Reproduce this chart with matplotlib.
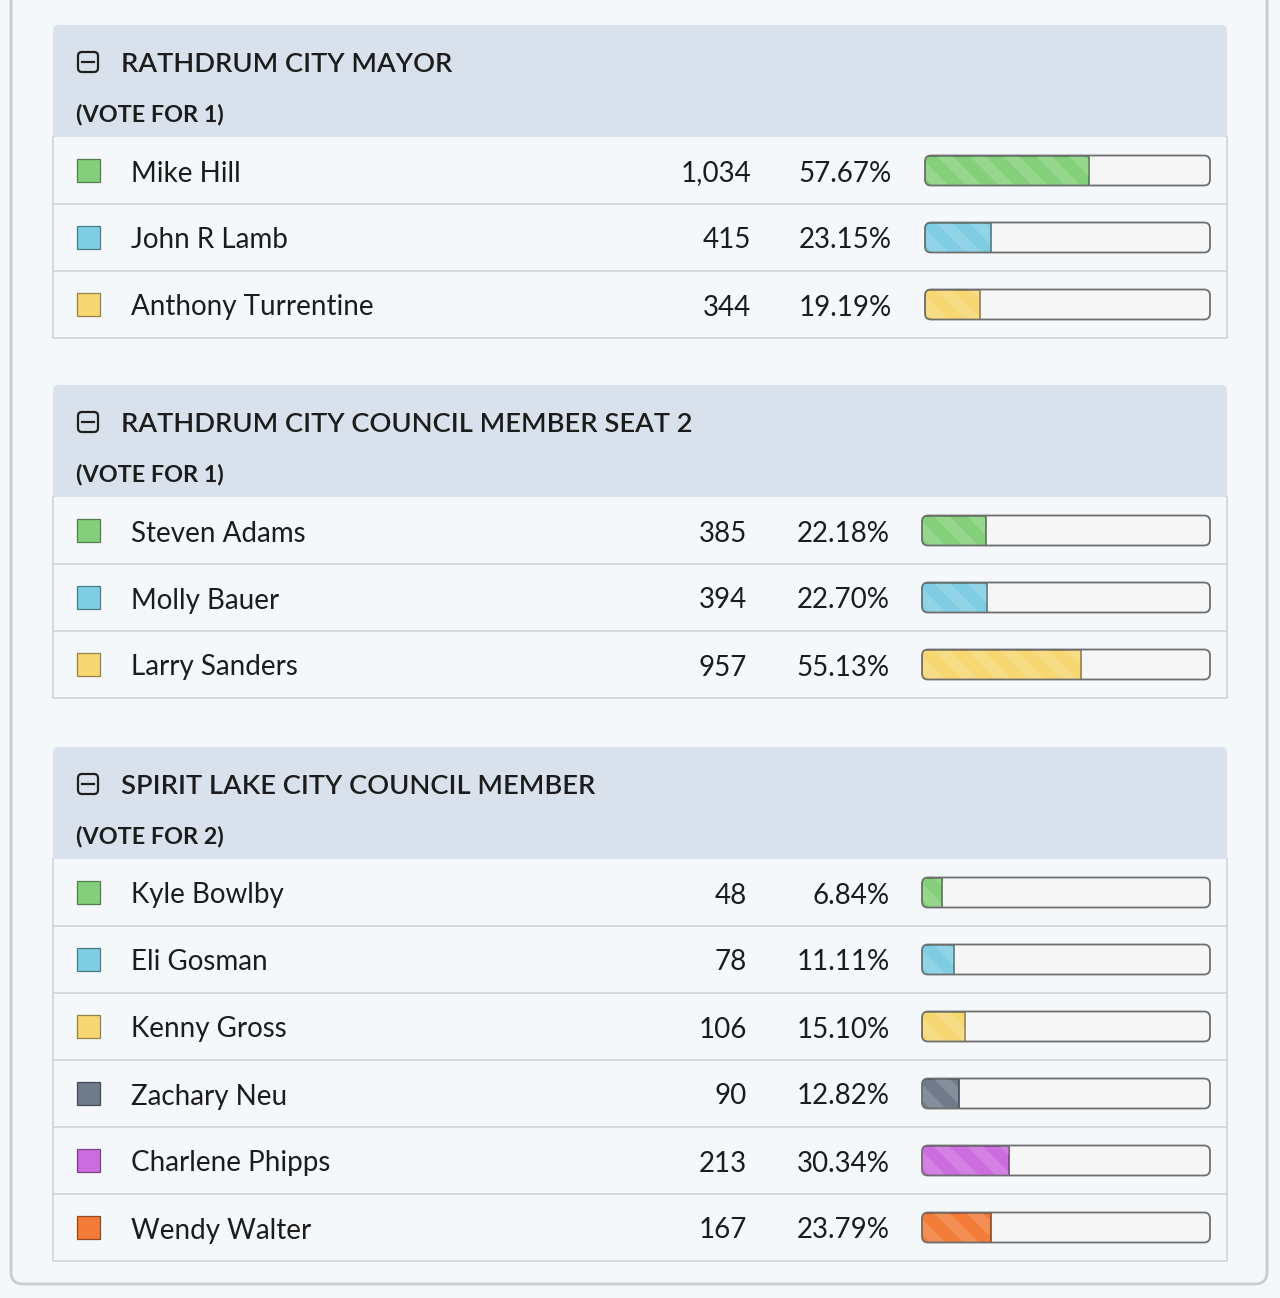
import matplotlib
matplotlib.use("Agg")
import matplotlib.pyplot as plt
from matplotlib.patches import FancyBboxPatch, Rectangle, Polygon
import matplotlib.colors as mcolors

plt.rcParams['font.family'] = ['Lato', 'DejaVu Sans']

# ---------------- data ----------------
contest_titles = ["RATHDRUM CITY MAYOR",
                  "RATHDRUM CITY COUNCIL MEMBER SEAT 2",
                  "SPIRIT LAKE CITY COUNCIL MEMBER"]
vote_for = ["(VOTE FOR 1)", "(VOTE FOR 1)", "(VOTE FOR 2)"]

mayor_names = ["Mike Hill", "John R Lamb", "Anthony Turrentine"]
mayor_votes = [1034, 415, 344]
mayor_pcts = [57.67, 23.15, 19.19]

seat2_names = ["Steven Adams", "Molly Bauer", "Larry Sanders"]
seat2_votes = [385, 394, 957]
seat2_pcts = [22.18, 22.70, 55.13]

spirit_names = ["Kyle Bowlby", "Eli Gosman", "Kenny Gross", "Zachary Neu",
                "Charlene Phipps", "Wendy Walter"]
spirit_votes = [48, 78, 106, 90, 213, 167]
spirit_pcts = [6.84, 11.11, 15.10, 12.82, 30.34, 23.79]

candidate_colors = ["#84d07a", "#7fcde3", "#f6d772", "#6f7b8b", "#cc6ddf", "#f27b37"]

contests = [
    (mayor_names, mayor_votes, mayor_pcts),
    (seat2_names, seat2_votes, seat2_pcts),
    (spirit_names, spirit_votes, spirit_pcts),
]

# ---------------- layout (pixels) ----------------
W, H = 1280, 1298
BG = "#f5f8fb"
HEADER_BG = "#d9e2ec"
TEXT = "#1c1c1c"
header_tops = [25, 385, 747]
HEADER_H = 112
ROW_H = 67
CARD_X0, CARD_X1 = 53, 1227
votes_right = [751, 747, 747]
pct_right = [892, 890, 890]
bar_x0 = [925, 922, 922]
BAR_X1 = 1210
BAR_H = 30
FS = 20.0

fig = plt.figure(figsize=(W / 100, H / 100), dpi=100)
fig.patch.set_facecolor(BG)
ax = fig.add_axes([0, 0, 1, 1])
ax.set_xlim(0, W)
ax.set_ylim(H, 0)
ax.axis("off")

# outer panel
ax.add_patch(FancyBboxPatch((11, -40), 1256, 1324,
                            boxstyle="round,pad=0,rounding_size=12",
                            facecolor=BG, edgecolor="#c9cbcd", linewidth=2.0, zorder=0))


def darker(c, f=0.72):
    r, g, b = mcolors.to_rgb(c)
    return (r * f, g * f, b * f)


def clip_x(poly, a, b):
    def clip(pts, inside, inter):
        out = []
        n = len(pts)
        for i in range(n):
            p, q = pts[i], pts[(i + 1) % n]
            ip, iq = inside(p), inside(q)
            if ip:
                out.append(p)
            if ip != iq:
                out.append(inter(p, q))
        return out

    def ix(p, q, x):
        t = (x - p[0]) / (q[0] - p[0])
        return (x, p[1] + t * (q[1] - p[1]))

    pts = clip(poly, lambda p: p[0] >= a, lambda p, q: ix(p, q, a))
    if not pts:
        return pts
    pts = clip(pts, lambda p: p[0] <= b, lambda p, q: ix(p, q, b))
    return pts


for ci, (names, votes, pcts) in enumerate(contests):
    top = header_tops[ci]
    n = len(names)
    rows_top = top + HEADER_H
    rows_bot = rows_top + n * ROW_H

    # header with rounded top
    ax.add_patch(FancyBboxPatch((CARD_X0, top), CARD_X1 - CARD_X0, HEADER_H + 10,
                                boxstyle="round,pad=0,rounding_size=6",
                                facecolor=HEADER_BG, edgecolor="none", zorder=1))
    # rows area
    ax.add_patch(Rectangle((CARD_X0, rows_top), CARD_X1 - CARD_X0, n * ROW_H,
                           facecolor=BG, edgecolor="none", zorder=2))
    # card borders
    ax.plot([CARD_X0, CARD_X0, CARD_X1, CARD_X1], [rows_top, rows_bot, rows_bot, rows_top],
            color="#cfd4da", lw=1.2, zorder=3)
    for r in range(1, n):
        yy = rows_top + r * ROW_H
        ax.plot([CARD_X0, CARD_X1], [yy, yy], color="#cfd4da", lw=1.2, zorder=3)

    # collapse icon
    ax.add_patch(FancyBboxPatch((78, top + 27), 20, 20,
                                boxstyle="round,pad=0,rounding_size=4",
                                facecolor="none", edgecolor="#1f1f1f", linewidth=1.6, zorder=4))
    ax.plot([82, 94], [top + 37, top + 37], color="#1f1f1f", lw=1.6, zorder=4)

    ax.text(121, top + 47, contest_titles[ci], fontsize=19.6, fontweight="semibold",
            color=TEXT, va="baseline", ha="left", zorder=5)
    ax.text(76, top + 96, vote_for[ci], fontsize=16.8, fontweight="bold",
            color=TEXT, va="baseline", ha="left", zorder=5)

    x0 = bar_x0[ci]
    bw = BAR_X1 - x0
    for i in range(n):
        cy = rows_top + i * ROW_H + ROW_H / 2
        col = candidate_colors[i]
        # legend square
        ax.add_patch(Rectangle((77, cy - 11.5), 23, 23, facecolor=col,
                               edgecolor=darker(col, 0.6), linewidth=0.9, zorder=4))
        base = cy + 11
        ax.text(131, base, names[i], fontsize=FS, color=TEXT, va="baseline", ha="left", zorder=5)
        ax.text(votes_right[ci], base, f"{votes[i]:,}", fontsize=FS, color=TEXT,
                va="baseline", ha="right", zorder=5)
        ax.text(pct_right[ci], base, f"{pcts[i]:.2f}%", fontsize=FS, color=TEXT,
                va="baseline", ha="right", zorder=5)

        # track
        ytop = cy - BAR_H / 2
        track = FancyBboxPatch((x0, ytop), bw, BAR_H,
                               boxstyle="round,pad=0,rounding_size=6",
                               facecolor="#f6f6f6", edgecolor="none", zorder=4)
        ax.add_patch(track)
        fill_w = pcts[i] / 100.0 * bw
        bars = ax.barh([cy], [fill_w], left=x0, height=BAR_H, color=col,
                       edgecolor=darker(col, 0.6), linewidth=1.2, zorder=5)
        for b in bars:
            b.set_clip_path(track)
        # stripes
        period, sw = 33, 16
        s = x0 - BAR_H - period + 8
        while s < x0 + fill_w:
            poly = [(s, ytop), (s + sw, ytop), (s + sw + BAR_H, ytop + BAR_H), (s + BAR_H, ytop + BAR_H)]
            pts = clip_x(poly, x0, x0 + fill_w - 0.8)
            if len(pts) >= 3:
                pg = Polygon(pts, closed=True, facecolor="white", alpha=0.15,
                             edgecolor="none", zorder=6)
                ax.add_patch(pg)
                pg.set_clip_path(track)
            s += period
        # track border
        ax.add_patch(FancyBboxPatch((x0, ytop), bw, BAR_H,
                                    boxstyle="round,pad=0,rounding_size=6",
                                    facecolor="none", edgecolor="#6e6e6e", linewidth=1.3, zorder=7))

fig.savefig("out.png", dpi=100, facecolor=BG)
